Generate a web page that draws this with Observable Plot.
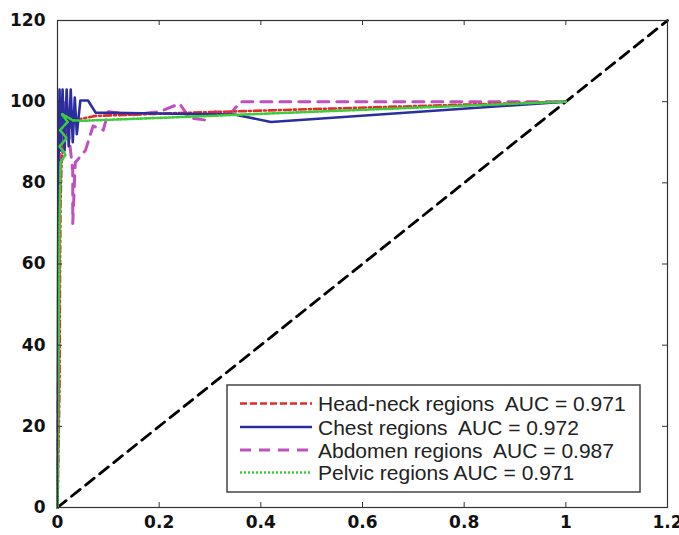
<!DOCTYPE html>
<html><head><meta charset="utf-8">
<script src="https://cdn.jsdelivr.net/npm/d3@7"></script>
<script src="https://cdn.jsdelivr.net/npm/@observablehq/plot@0.6"></script>
<style>body{margin:0;background:#fff}</style>
</head><body><div id="chart"></div>
<script>
const xTicks = [0, 0.2, 0.4, 0.6, 0.8, 1, 1.2];
const yTicks = [0, 20, 40, 60, 80, 100, 120];

const diagX = [0, 1.2];
const diagY = [0, 120];

const headX = [0, 0.004, 0.005, 0.006, 0.008, 0.012, 0.02, 0.035, 0.075, 0.24, 1];
const headY = [0, 30, 60, 75, 85, 90, 93, 95.5, 96.5, 97.2, 100];

const chestX = [0, 0.001, 0.002, 0.004, 0.006, 0.01, 0.014, 0.018, 0.022, 0.026, 0.03, 0.034, 0.038, 0.045, 0.06, 0.075, 0.2, 0.35, 0.42, 1];
const chestY = [0, 50, 85, 103, 88, 103, 88, 103, 89, 103, 90, 101, 92, 100.3, 100.3, 97.3, 97.1, 96.8, 95, 100];

const abdX = [0, 0.002, 0.004, 0.008, 0.01, 0.015, 0.03, 0.03, 0.035, 0.055, 0.07, 0.09, 0.1, 0.15, 0.2, 0.24, 0.26, 0.29, 0.31, 0.34, 0.36, 1];
const abdY = [0, 40, 80, 100, 90, 100, 83, 70, 85, 88, 94, 93, 97.5, 96.8, 97.5, 99.5, 96, 95.5, 97.5, 97, 100, 100];

const pelX = [0, 0.003, 0.004, 0.006, 0.016, 0.004, 0.018, 0.005, 0.02, 0.008, 0.03, 0.05, 0.2, 1];
const pelY = [0, 50, 70, 85, 87, 89, 91, 93, 95, 97, 95.4, 95.3, 96, 100];

const seriesNames = [
  "Head-neck regions  AUC = 0.971",
  "Chest regions  AUC = 0.972",
  "Abdomen regions  AUC = 0.987",
  "Pelvic regions AUC = 0.971"
];
const seriesColors = ["#e42a2a", "#2b2f9e", "#c04fc0", "#3ccc3c"];
const seriesDash = ["7,3,2,3", null, "11,8", "2,2"];

const toRows = (xs, ys) => xs.map((x, i) => ({x, y: ys[i]}));
const series = [
  toRows(headX, headY),
  toRows(chestX, chestY),
  toRows(abdX, abdY),
  toRows(pelX, pelY)
];

const W = 679, H = 535;
const plot = Plot.plot({
  width: W, height: H,
  marginLeft: 57, marginRight: 12, marginTop: 20, marginBottom: 28,
  x: {domain: [0, 1.2]},
  y: {domain: [0, 120]},
  style: {background: "#fff", overflow: "visible"},
  marks: [
    Plot.line(toRows(diagX, diagY), {x: "x", y: "y", stroke: "#000", strokeWidth: 2.8, strokeDasharray: "11,7"}),
    Plot.line(series[2], {x: "x", y: "y", stroke: seriesColors[2], strokeWidth: 3, strokeDasharray: seriesDash[2]}),
    Plot.line(series[0], {x: "x", y: "y", stroke: seriesColors[0], strokeWidth: 2.6, strokeDasharray: seriesDash[0]}),
    Plot.line(series[1], {x: "x", y: "y", stroke: seriesColors[1], strokeWidth: 2.6}),
    Plot.line(series[3], {x: "x", y: "y", stroke: seriesColors[3], strokeWidth: 2.6, strokeDasharray: seriesDash[3]}),
    Plot.frame({stroke: "#333", strokeWidth: 1.2}),
    Plot.ruleX(xTicks, {x: d => d, y1: 0, y2: 0, insetTop: -5, stroke: "#333"}),
    Plot.ruleX(xTicks, {x: d => d, y1: 120, y2: 120, insetBottom: -5, stroke: "#333"}),
    Plot.ruleY(yTicks, {y: d => d, x1: 0, x2: 0, insetRight: -5, stroke: "#333"}),
    Plot.ruleY(yTicks, {y: d => d, x1: 1.2, x2: 1.2, insetLeft: -5, stroke: "#333"}),
    Plot.axisX({ticks: xTicks, tickSize: 0, tickPadding: 8, fontSize: 17, fontWeight: "bold", fontFamily: "DejaVu Sans", fill: "#111", label: null, tickFormat: d => String(d)}),
    Plot.axisY({ticks: yTicks, tickSize: 0, tickPadding: 12, fontSize: 17, fontWeight: "bold", fontFamily: "DejaVu Sans", fill: "#111", label: null})
  ]
});

// legend box (inside the axes, lower right)
const svg = d3.select(plot);
const lg = svg.append("g").attr("text-anchor", "start");
const bx = 227, by = 385, bw = 413, bh = 107;
lg.append("rect").attr("x", bx).attr("y", by).attr("width", bw).attr("height", bh)
  .attr("fill", "#fff").attr("stroke", "#444").attr("stroke-width", 1.5);
const rowY = [403.5, 427, 450, 472.5];
seriesNames.forEach((name, i) => {
  const ln = lg.append("line").attr("x1", 240).attr("x2", 312).attr("y1", rowY[i]).attr("y2", rowY[i])
    .attr("stroke", seriesColors[i]).attr("stroke-width", i === 2 ? 2.8 : 2.4);
  if (seriesDash[i]) ln.attr("stroke-dasharray", i === 0 ? "7,3" : seriesDash[i]);
  lg.append("text").attr("x", 318).attr("y", rowY[i]).attr("dy", "0.36em")
    .attr("text-anchor", "start")
    .attr("font-family", "Liberation Sans, Arial, sans-serif").attr("font-size", 21)
    .attr("fill", "#222").text(name);
});

document.getElementById("chart").appendChild(plot);
</script>
</body></html>
